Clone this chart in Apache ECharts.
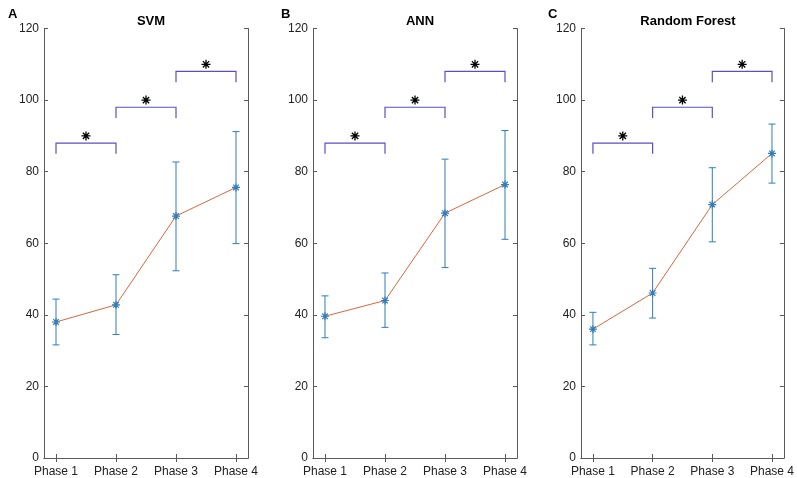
<!DOCTYPE html>
<html>
<head>
<meta charset="utf-8">
<script src="https://cdn.jsdelivr.net/npm/echarts@6/dist/echarts.min.js"></script>
<style>
  html, body { margin: 0; padding: 0; background: #fff; }
  #main { width: 797px; height: 478px; }
</style>
</head>
<body>
<div id="main"></div>
<script>
// data
var phases = ['Phase 1', 'Phase 2', 'Phase 3', 'Phase 4'];
var panelTitles = ['SVM', 'ANN', 'Random Forest'];
var panelLetters = ['A', 'B', 'C'];

var svmMean = [38.0, 42.8, 67.6, 75.6];
var svmLow  = [31.6, 34.5, 52.3, 59.9];
var svmHigh = [44.4, 51.2, 82.7, 91.2];

var annMean = [39.6, 44.0, 68.4, 76.4];
var annLow  = [33.6, 36.5, 53.2, 61.1];
var annHigh = [45.3, 51.7, 83.5, 91.5];

var rfMean = [36.0, 46.1, 70.8, 85.1];
var rfLow  = [31.6, 39.1, 60.4, 76.8];
var rfHigh = [40.7, 53.0, 81.1, 93.3];

// significance brackets: [from phase, to phase, bracket level]
var bracketFrom  = [1, 2, 3];
var bracketTo    = [2, 3, 4];
var bracketLevel = [88, 98, 108];
var bracketDrop  = 3;
var starLevel    = [90, 100, 110];

var yTicks = [0, 20, 40, 60, 80, 100, 120];

var means = [svmMean, annMean, rfMean];
var lows = [svmLow, annLow, rfLow];
var highs = [svmHigh, annHigh, rfHigh];

var gridLeft = [44, 313, 581];
var gridWidth = 204;
var gridTop = 28.5;
var gridHeight = 430;
var letterLeft = [3, 276, 543];

var axisColor = '#5a5a5a';
var blue = '#2f7dba';
var orange = '#d9683a';
var purple = '#5a4fc9';
var font = 'Liberation Sans, Arial, Helvetica, sans-serif';

var asteriskPath = 'path://M5,0L5,10M0,5L10,5M1.5,1.5L8.5,8.5M1.5,8.5L8.5,1.5';

var chart = echarts.init(document.getElementById('main'), null, {renderer: 'canvas'});

var grids = [], xAxes = [], yAxes = [], series = [], titles = [];

for (var p = 0; p < 3; p++) {
    grids.push({left: gridLeft[p], top: gridTop, width: gridWidth, height: gridHeight, containLabel: false});

    var tickVals = phases.map(function (s, i) { return i + 1; });
    // bottom x axis with labels
    xAxes.push({
        type: 'value', gridIndex: p, min: 0.8, max: 4.2, position: 'bottom',
        axisLine: {show: true, lineStyle: {color: axisColor, width: 1}},
        axisTick: {show: true, inside: true, length: 4, customValues: tickVals, lineStyle: {color: axisColor}},
        axisLabel: {show: true, customValues: tickVals, margin: 8, color: '#222', fontSize: 12, fontFamily: font,
            formatter: function (v) { return phases[Math.round(v) - 1]; }},
        splitLine: {show: false}
    });
    // top mirror axis
    xAxes.push({
        type: 'value', gridIndex: p, min: 0.8, max: 4.2, position: 'top',
        axisLine: {show: true, lineStyle: {color: axisColor, width: 1}},
        axisTick: {show: true, inside: true, length: 4, customValues: tickVals, lineStyle: {color: axisColor}},
        axisLabel: {show: false},
        splitLine: {show: false}
    });
    yAxes.push({
        type: 'value', gridIndex: p, min: yTicks[0], max: yTicks[yTicks.length - 1], interval: 20, position: 'left',
        axisLine: {show: true, lineStyle: {color: axisColor, width: 1}},
        axisTick: {show: true, inside: true, length: 4, lineStyle: {color: axisColor}},
        axisLabel: {show: true, margin: 5, color: '#222', fontSize: 12, fontFamily: font},
        splitLine: {show: false}
    });
    yAxes.push({
        type: 'value', gridIndex: p, min: yTicks[0], max: yTicks[yTicks.length - 1], interval: 20, position: 'right',
        axisLine: {show: true, lineStyle: {color: axisColor, width: 1}},
        axisTick: {show: true, inside: true, length: 4, lineStyle: {color: axisColor}},
        axisLabel: {show: false},
        splitLine: {show: false}
    });

    var xi = p * 2, yi = p * 2;

    // error bars
    var errData = means[p].map(function (m, i) { return [i + 1, lows[p][i], highs[p][i]]; });
    series.push({
        type: 'custom', xAxisIndex: xi, yAxisIndex: yi, z: 2,
        data: errData,
        renderItem: function (params, api) {
            var x = api.value(0);
            var lo = api.coord([x, api.value(1)]);
            var hi = api.coord([x, api.value(2)]);
            var cap = 3.5;
            var st = {stroke: blue, lineWidth: 1};
            return {type: 'group', children: [
                {type: 'line', shape: {x1: lo[0], y1: lo[1], x2: hi[0], y2: hi[1]}, style: st},
                {type: 'line', shape: {x1: lo[0] - cap, y1: lo[1], x2: lo[0] + cap, y2: lo[1]}, style: st},
                {type: 'line', shape: {x1: hi[0] - cap, y1: hi[1], x2: hi[0] + cap, y2: hi[1]}, style: st}
            ]};
        }
    });

    // mean line
    series.push({
        type: 'line', xAxisIndex: xi, yAxisIndex: yi, z: 3,
        data: means[p].map(function (m, i) { return [i + 1, m]; }),
        showSymbol: false, symbol: 'none',
        lineStyle: {color: orange, width: 1},
        silent: true
    });
    // mean markers
    series.push({
        type: 'scatter', xAxisIndex: xi, yAxisIndex: yi, z: 4,
        data: means[p].map(function (m, i) { return [i + 1, m]; }),
        symbol: asteriskPath, symbolSize: 8,
        itemStyle: {color: 'rgba(0,0,0,0)', borderColor: blue, borderWidth: 1.2, opacity: 1},
        silent: true
    });

    // brackets
    series.push({
        type: 'custom', xAxisIndex: xi, yAxisIndex: yi, z: 2,
        data: bracketFrom.map(function (f, i) { return [f, bracketTo[i], bracketLevel[i]]; }),
        renderItem: function (params, api) {
            var a = api.coord([api.value(0), api.value(2)]);
            var b = api.coord([api.value(1), api.value(2)]);
            var a0 = api.coord([api.value(0), api.value(2) - bracketDrop]);
            var b0 = api.coord([api.value(1), api.value(2) - bracketDrop]);
            return {type: 'polyline', shape: {points: [a0, a, b, b0]},
                style: {stroke: purple, lineWidth: 1.2, fill: null}};
        }
    });
    // significance stars
    series.push({
        type: 'scatter', xAxisIndex: xi, yAxisIndex: yi, z: 4,
        data: bracketFrom.map(function (f, i) { return [(f + bracketTo[i]) / 2, starLevel[i]]; }),
        symbol: asteriskPath, symbolSize: 9,
        itemStyle: {color: 'rgba(0,0,0,0)', borderColor: '#000', borderWidth: 1.3, opacity: 1},
        silent: true
    });

    titles.push({
        text: panelTitles[p], left: gridLeft[p] + gridWidth / 2, top: 10, textAlign: 'center',
        textStyle: {fontSize: 13, fontWeight: 'bold', color: '#000', fontFamily: font}
    });
    titles.push({
        text: panelLetters[p], left: letterLeft[p], top: 3,
        textStyle: {fontSize: 13, fontWeight: 'bold', color: '#000', fontFamily: font}
    });
}

chart.setOption({
    animation: false,
    backgroundColor: '#fff',
    title: titles,
    grid: grids,
    xAxis: xAxes,
    yAxis: yAxes,
    series: series
});
</script>
</body>
</html>
